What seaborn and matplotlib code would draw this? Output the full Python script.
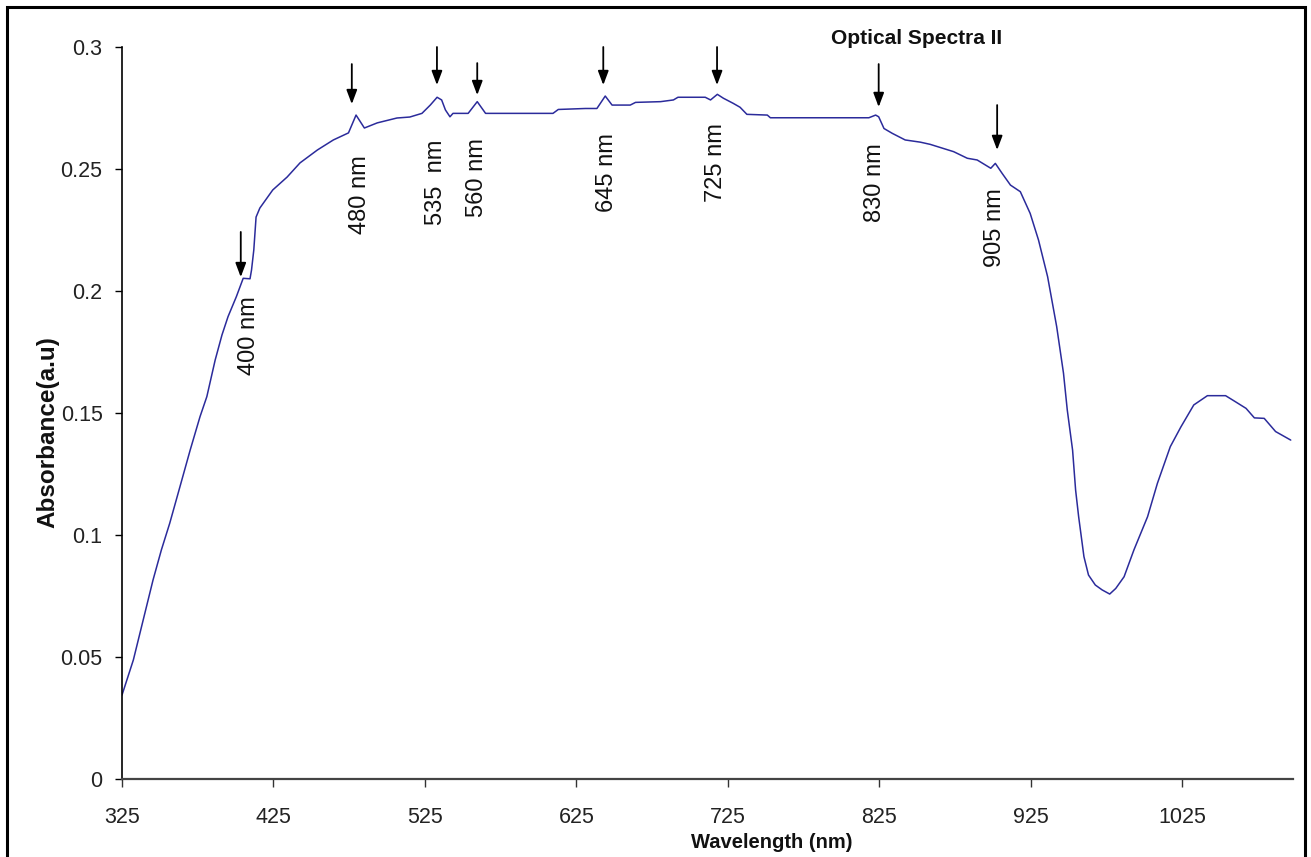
import matplotlib
matplotlib.use("Agg")
import matplotlib.pyplot as plt
from matplotlib import font_manager
from matplotlib.patches import Rectangle
import pandas as pd
import seaborn as sns

# ---------------- data ----------------
wavelength_nm = [
    325, 332.5, 339, 345.5, 351, 356.5, 362, 370, 376.5, 381,
    386.5, 391, 395, 400.5, 405, 409.5, 410.5, 412, 413.5, 416,
    424.5, 434, 442.5, 454, 464.5, 474.5, 479.5, 485, 493.5, 506.5,
    515, 523, 528.5, 533, 536, 538.5, 541.5, 543.5, 553.5, 559.5,
    565, 609.5, 613, 631, 638.5, 644, 648.5, 660.5, 664, 680.5,
    689, 692, 710, 713.5, 718, 722, 728.5, 733, 737.5, 751,
    753, 806, 818, 822.5, 824.5, 828, 833.5, 842, 852, 858.5,
    874, 883, 889.5, 898.5, 901.5, 906, 911.5, 918, 924.5, 930,
    936, 942, 946.5, 949, 952.5, 954.5, 956.5, 960, 963, 967.5,
    972, 977, 981, 986.5, 993, 1002, 1008.5, 1017, 1024, 1032.5,
    1041.5, 1053.5, 1059, 1067, 1072.5, 1079, 1086.5, 1096.5,
]
absorbance = [
    0.0344, 0.0488, 0.0652, 0.0816, 0.0939, 0.1048, 0.117, 0.1348, 0.1485, 0.1567,
    0.1717, 0.182, 0.1895, 0.1977, 0.2052, 0.2050, 0.2086, 0.2168, 0.2303, 0.234,
    0.2414, 0.2467, 0.2525, 0.2578, 0.2619, 0.2648, 0.2721, 0.2668, 0.2689, 0.2709,
    0.2713, 0.2728, 0.2762, 0.2794, 0.2783, 0.2742, 0.2714, 0.2728, 0.2728, 0.2776,
    0.2728, 0.2728, 0.2744, 0.2748, 0.2748, 0.2799, 0.2762, 0.2762, 0.2773, 0.2776,
    0.2783, 0.2794, 0.2794, 0.2783, 0.2806, 0.279, 0.2769, 0.2753, 0.2724, 0.2721,
    0.271, 0.271, 0.271, 0.2721, 0.2714, 0.2666, 0.2646, 0.2619, 0.261, 0.2601,
    0.2571, 0.2544, 0.2537, 0.2503, 0.2523, 0.2482, 0.2434, 0.2407, 0.2318, 0.2209,
    0.2059, 0.1854, 0.1663, 0.1512, 0.1348, 0.1184, 0.1075, 0.0911, 0.0836, 0.0795,
    0.0775, 0.0758, 0.0781, 0.0829, 0.0939, 0.1075, 0.1212, 0.1362, 0.1443, 0.1533,
    0.1571, 0.1571, 0.155, 0.1519, 0.148, 0.1478, 0.1424, 0.1389,
]

peak_labels = ["400 nm", "480 nm", "535  nm", "560 nm", "645 nm", "725 nm", "830 nm", "905 nm"]
peak_x = [403.4, 476.7, 532.9, 559.5, 642.7, 717.8, 824.5, 902.7]
arrow_top = [0.2242, 0.2930, 0.3000, 0.2934, 0.3000, 0.3000, 0.2930, 0.2762]
arrow_tip = [0.2057, 0.2766, 0.2844, 0.2803, 0.2844, 0.2844, 0.2754, 0.2578]
label_x = [408.6, 482.2, 532.4, 559.3, 645.1, 717.3, 822.4, 901.0]
label_y = [0.1816, 0.2393, 0.2447, 0.2465, 0.2486, 0.2527, 0.2445, 0.2260]

x_ticks = [325, 425, 525, 625, 725, 825, 925, 1025]
y_ticks = [0, 0.05, 0.1, 0.15, 0.2, 0.25, 0.3]
y_tick_labels = ["0", "0.05", "0.1", "0.15", "0.2", "0.25", "0.3"]

title_text = "Optical Spectra II"
x_label = "Wavelength (nm)"
y_label = "Absorbance(a.u)"

# ---------------- style ----------------
sns.set_style("white")
names = {f.name for f in font_manager.fontManager.ttflist}
have_narrow = "Liberation Sans Narrow" in names
regular = ["Liberation Sans", "DejaVu Sans"]
narrow = ["Liberation Sans Narrow", "Liberation Sans", "DejaVu Sans"] if have_narrow else regular
plt.rcParams["font.family"] = regular

W, H = 1311, 857
fig = plt.figure(figsize=(W / 100, H / 100), dpi=100)
fig.patch.set_facecolor("white")
ax = fig.add_axes([122 / W, 1 - 779 / H, (1293 - 122) / W, (779 - 47) / H])

df = pd.DataFrame({"Wavelength": wavelength_nm, "Absorbance": absorbance})
sns.lineplot(data=df, x="Wavelength", y="Absorbance", ax=ax, color="#2B2B9B",
             linewidth=1.1, sort=False)

ax.set_xlim(325, 1098)
ax.set_ylim(0, 0.3)
ax.set_xticks(x_ticks)
ax.set_xticklabels([str(t) for t in x_ticks])
ax.set_yticks(y_ticks)
ax.set_yticklabels(y_tick_labels)
ax.set_xlabel("")
ax.set_ylabel("")

tick_size = 17 if have_narrow else 15.5
for lab in ax.get_xticklabels() + ax.get_yticklabels():
    lab.set_family(narrow)
    lab.set_fontsize(tick_size)
    lab.set_color("#222222")

ax.tick_params(axis="y", direction="out", length=5, width=1.0, color="black", pad=9, left=True)
ax.tick_params(axis="x", direction="out", length=6, width=1.0, color="#333333", pad=14, bottom=True)

for s in ["top", "right"]:
    ax.spines[s].set_visible(False)
ax.spines["left"].set_color("black")
ax.spines["left"].set_linewidth(1.2)
ax.spines["bottom"].set_color("#444444")
ax.spines["bottom"].set_linewidth(1.6)

# arrows and peak labels
for px, top, tip in zip(peak_x, arrow_top, arrow_tip):
    ax.annotate("", xy=(px, tip), xytext=(px, top), annotation_clip=False,
                arrowprops=dict(arrowstyle="-|>,head_length=0.85,head_width=0.32",
                                color="black", lw=1.3, shrinkA=0, shrinkB=0,
                                mutation_scale=10))
for txt, lx, ly in zip(peak_labels, label_x, label_y):
    ax.text(lx, ly, txt, rotation=90, ha="center", va="center", fontsize=17,
            color="#111111", family=regular)

# title and axis labels
fig.text(917 / W, 1 - 39 / H, title_text, ha="center", va="center",
         fontsize=18 if have_narrow else 15, fontweight="bold", family=narrow,
         color="#111111")
fig.text(772 / W, 1 - 842 / H, x_label, ha="center", va="center",
         fontsize=14.5, fontweight="bold", family=regular, color="#111111")
fig.text(48 / W, 1 - 432 / H, y_label, ha="center", va="center", rotation=90,
         fontsize=17.5, fontweight="bold", family=regular, color="#111111")

# figure frame
fig.patches.append(Rectangle((7 / W, -0.05), (1305 - 7) / W, 1.05 - 7 / H,
                             transform=fig.transFigure, fill=False,
                             edgecolor="black", linewidth=2.2, clip_on=False))

fig.savefig("out.png", dpi=100, facecolor="white")
